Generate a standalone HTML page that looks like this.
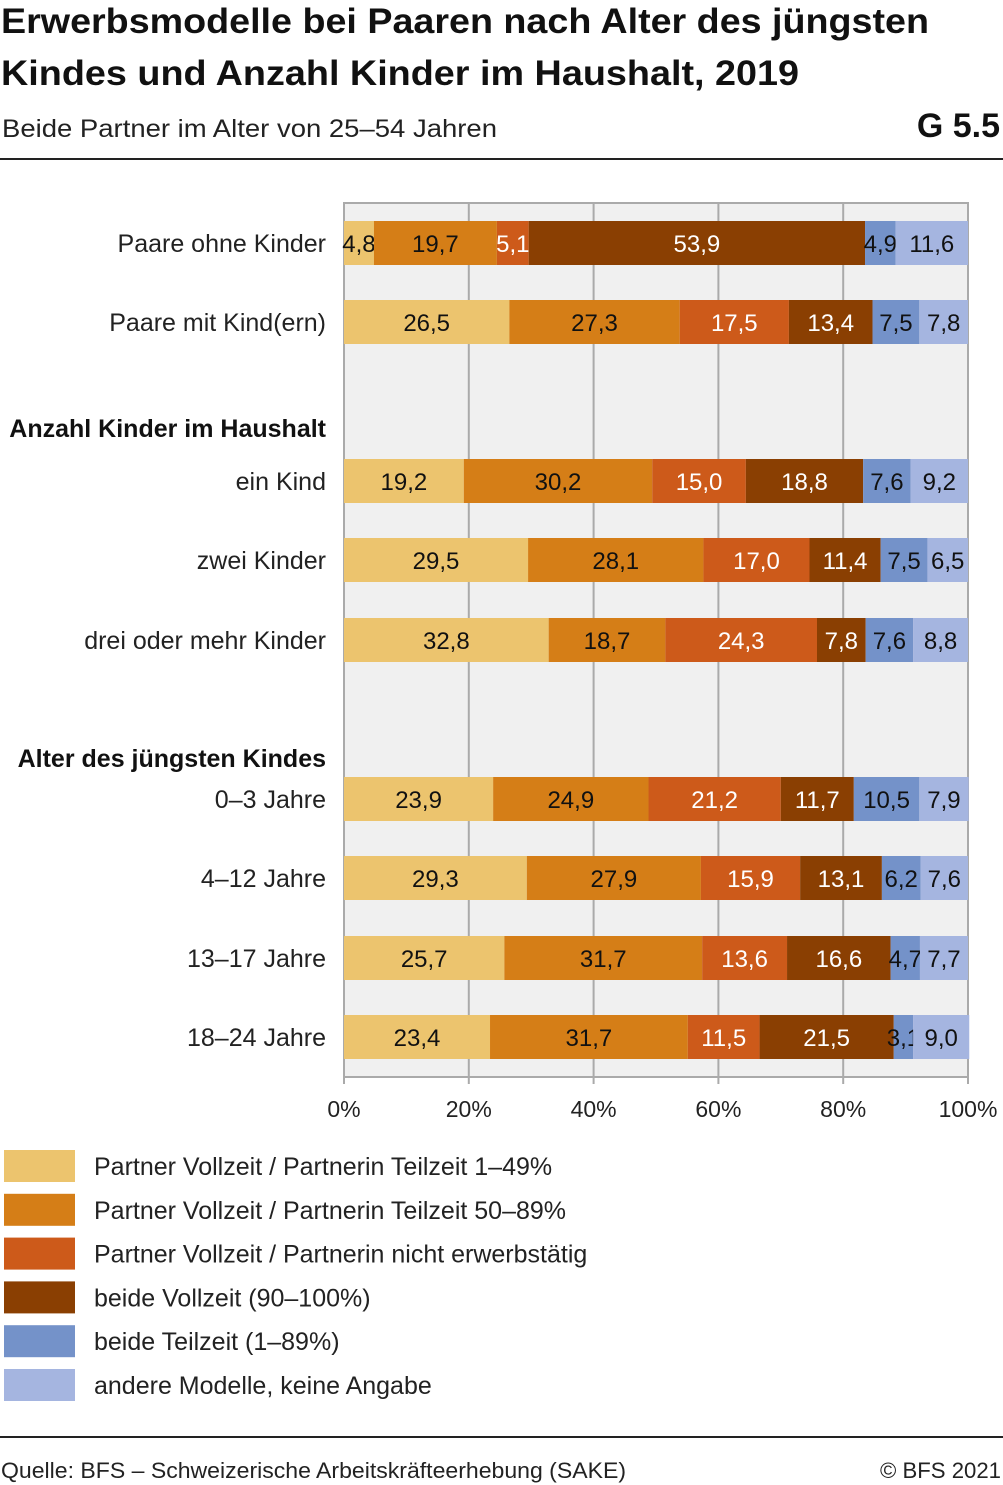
<!DOCTYPE html>
<html><head><meta charset="utf-8"><style>
body{margin:0;background:#fff}
svg{display:block;font-family:"Liberation Sans",sans-serif}
</style></head><body>
<svg id="c" width="1003" height="1485" viewBox="0 0 1003 1485" xmlns="http://www.w3.org/2000/svg">
<text x="1" y="33" font-size="35" font-weight="bold" textLength="928" lengthAdjust="spacingAndGlyphs" fill="#111">Erwerbsmodelle bei Paaren nach Alter des jüngsten</text>
<text x="1" y="85" font-size="35" font-weight="bold" textLength="798" lengthAdjust="spacingAndGlyphs" fill="#111">Kindes und Anzahl Kinder im Haushalt, 2019</text>
<text x="2" y="137" font-size="25" textLength="495" lengthAdjust="spacingAndGlyphs" fill="#222">Beide Partner im Alter von 25–54 Jahren</text>
<text x="1000" y="137" font-size="34" font-weight="bold" text-anchor="end" fill="#111">G 5.5</text>
<rect x="0" y="158" width="1003" height="2" fill="#222"/>
<rect x="344" y="203" width="624" height="874" fill="#f0f0f0" stroke="#aaa" stroke-width="2"/>
<g id="grid"></g>
<g id="bars"></g>
<g id="cats"></g>
<g id="ticks"></g>
<g id="legend"></g>
<rect x="0" y="1436" width="1003" height="2" fill="#222"/>
<text x="1" y="1478" font-size="22" textLength="625" lengthAdjust="spacingAndGlyphs" fill="#222">Quelle: BFS – Schweizerische Arbeitskräfteerhebung (SAKE)</text>
<text x="1001" y="1478" font-size="22" text-anchor="end" textLength="121" lengthAdjust="spacingAndGlyphs" fill="#222">© BFS 2021</text>
</svg>
<script>
const categories=["Paare ohne Kinder","Paare mit Kind(ern)","ein Kind","zwei Kinder","drei  oder mehr Kinder","0–3 Jahre","4–12 Jahre","13–17 Jahre","18–24 Jahre"];
const sVollTeil1=[4.8,26.5,19.2,29.5,32.8,23.9,29.3,25.7,23.4];
const sVollTeil50=[19.7,27.3,30.2,28.1,18.7,24.9,27.9,31.7,31.7];
const sVollNicht=[5.1,17.5,15.0,17.0,24.3,21.2,15.9,13.6,11.5];
const sBeideVoll=[53.9,13.4,18.8,11.4,7.8,11.7,13.1,16.6,21.5];
const sBeideTeil=[4.9,7.5,7.6,7.5,7.6,10.5,6.2,4.7,3.1];
const sAndere=[11.6,7.8,9.2,6.5,8.8,7.9,7.6,7.7,9.0];
const seriesNames=["Partner Vollzeit / Partnerin Teilzeit 1–49%","Partner Vollzeit / Partnerin Teilzeit 50–89%","Partner Vollzeit / Partnerin nicht erwerbstätig","beide Vollzeit (90–100%)","beide Teilzeit (1–89%)","andere Modelle, keine Angabe"];
const tickLabels=["0%","20%","40%","60%","80%","100%"];
const tickValues=[0,20,40,60,80,100];
const series=[sVollTeil1,sVollTeil50,sVollNicht,sBeideVoll,sBeideTeil,sAndere];
const colors=["#ecc46e","#d57e17","#cd5a1a","#8a3f02","#7492c9","#a5b5e0"];
const textCol=["#111","#111","#fff","#fff","#111","#111"];
const rowY=[243,322,481,560,640,799,878,958,1037];
const NS="http://www.w3.org/2000/svg";
const x=v=>344+v*6.24;
function mk(tag,attrs,parent,txt){const e=document.createElementNS(NS,tag);for(const k in attrs)e.setAttribute(k,attrs[k]);if(txt!=null)e.textContent=txt;parent.appendChild(e);return e;}
const grid=document.getElementById('grid'),bars=document.getElementById('bars'),cats=document.getElementById('cats'),ticks=document.getElementById('ticks'),leg=document.getElementById('legend');
tickValues.forEach((t,i)=>{
 if(t>0&&t<100){const l=mk('line',{x1:x(t),x2:x(t),y1:203,y2:1077,stroke:'#aaa','stroke-width':2},grid);
 
 }
 const tk=mk('line',{x1:x(t),x2:x(t),y1:1077,y2:1084,stroke:'#aaa','stroke-width':2},ticks);
 
 
 const tl=mk('text',{x:x(t),y:1117,'font-size':23,'text-anchor':'middle',fill:'#222'},ticks,tickLabels[i]);
 
 
});
categories.forEach((c,r)=>{
 const cy=rowY[r];let acc=0;
 series.forEach((s,k)=>{
  const v=s[r];
  const rc=mk('rect',{x:x(acc),y:cy-22,width:x(acc+v)-x(acc),height:44,fill:colors[k]},bars);
  
  
  const t=mk('text',{x:(x(acc)+x(acc+v))/2,y:cy+9,'font-size':24,'text-anchor':'middle',fill:textCol[k]},bars,v.toFixed(1).replace('.',','));
  
  
  acc+=v;
 });
 const ct=mk('text',{x:326,y:cy+9,'font-size':25,'text-anchor':'end',fill:'#222'},cats,c);
 
 
});
const h1=mk('text',{x:326,y:437,'font-size':25,'font-weight':'bold','text-anchor':'end',fill:'#111'},cats,"Anzahl Kinder im Haushalt");


const h2=mk('text',{x:326,y:767,'font-size':25,'font-weight':'bold','text-anchor':'end',fill:'#111'},cats,"Alter des jüngsten Kindes");


seriesNames.forEach((n,k)=>{
 const y=1166+k*43.8;
 const sw=mk('rect',{x:4,y:y-16,width:71,height:32,fill:colors[k]},leg);
 
 
 const t=mk('text',{x:94,y:y+9,'font-size':25,fill:'#222'},leg,n);
 
 
});
</script>
</body></html>
